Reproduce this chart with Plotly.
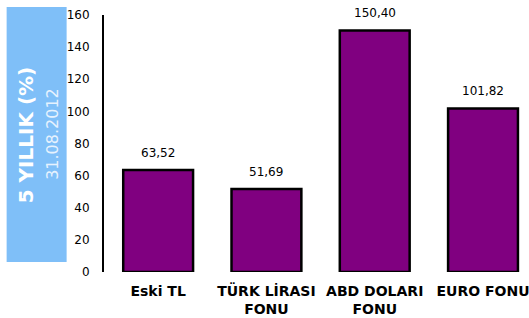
import plotly.graph_objects as go

categories = ["Eski TL", "TÜRK LİRASI<br>FONU", "ABD DOLARI<br>FONU", "EURO FONU"]
values = [63.52, 51.69, 150.40, 101.82]
value_labels = ["63,52", "51,69", "150,40", "101,82"]
y_ticks = [0, 20, 40, 60, 80, 100, 120, 140, 160]

FONT = "DejaVu Sans"

fig = go.Figure()
fig.add_trace(go.Bar(
    x=categories, y=values,
    marker=dict(color="#800080", line=dict(color="#000000", width=2.5)),
    hoverinfo="skip",
))

for c, v, t in zip(categories, values, value_labels):
    fig.add_annotation(x=c, y=v, text=t, showarrow=False, yshift=17,
                       font=dict(family=FONT, size=12, color="#000000"))

# blue title box
fig.add_shape(type="rect", xref="paper", yref="paper",
              x0=(5 - 104) / 425, x1=(66 - 104) / 425,
              y0=(272 - 262) / 257, y1=(272 - 7) / 257,
              fillcolor="#7FBFF8", line=dict(width=0), layer="below")
fig.add_annotation(xref="paper", yref="paper", x=(25 - 104) / 425, y=(272 - 135) / 257,
                   xanchor="center", yanchor="middle",
                   text="<b>5 YILLIK (%)</b>", textangle=-90, showarrow=False,
                   font=dict(family=FONT, size=20, color="#FFFFFF"))
fig.add_annotation(xref="paper", yref="paper", x=(51 - 104) / 425, y=(272 - 134) / 257,
                   xanchor="center", yanchor="middle",
                   text="31.08.2012", textangle=-90, showarrow=False,
                   font=dict(family=FONT, size=16, color="#E6F2FE"))

fig.update_layout(
    width=529, height=318,
    margin=dict(l=104, r=0, t=15, b=46),
    paper_bgcolor="#FFFFFF", plot_bgcolor="#FFFFFF",
    showlegend=False, bargap=0.355,
    font=dict(family=FONT, color="#000000"),
)
fig.update_xaxes(range=[-0.5, 3.36], showline=False, showgrid=False, zeroline=False,
                 ticks="", ticklabelstandoff=9,
                 tickfont=dict(family=FONT, size=14, color="#000000", weight="bold"))
fig.update_yaxes(range=[0, 160], tickvals=y_ticks, showgrid=False, zeroline=False,
                 showline=True, linecolor="#000000", linewidth=2,
                 ticks="", ticklabelstandoff=10,
                 tickfont=dict(family=FONT, size=12, color="#000000"))

fig.write_html("out.html", config={"displayModeBar": False},
               post_script="document.body.style.margin='0';")
